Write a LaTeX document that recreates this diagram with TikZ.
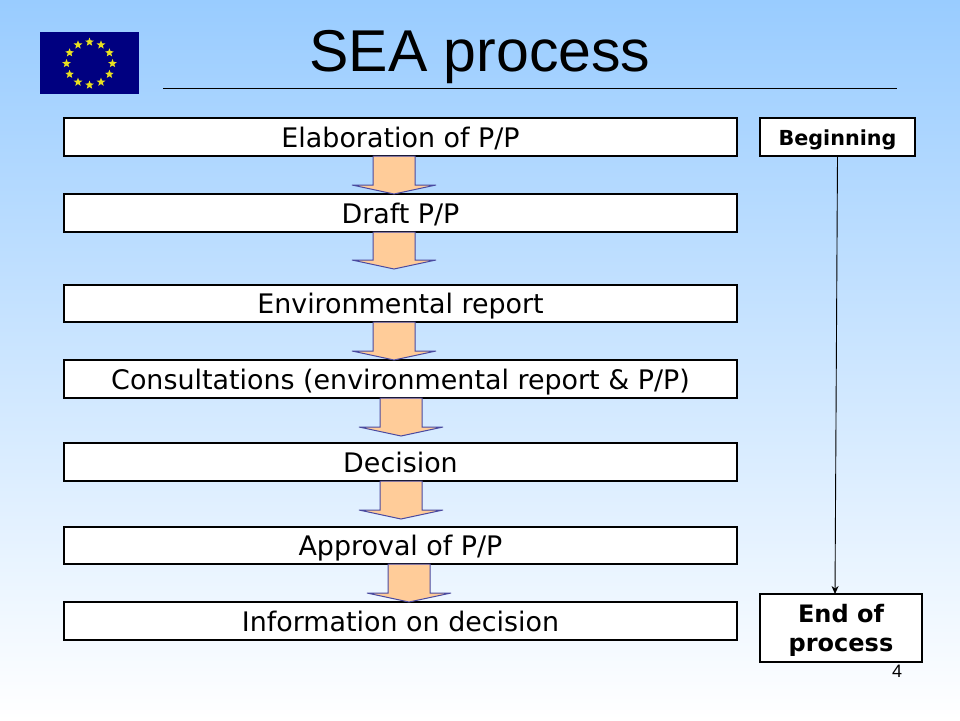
\documentclass[tikz,border=0pt]{standalone}
\usepackage{fontspec}
\setmainfont{DejaVu Sans}
\newfontfamily\titlefont{Liberation Sans}
\usetikzlibrary{shapes.geometric,calc,arrows.meta}
\definecolor{skyblue}{HTML}{99CCFF}
\definecolor{flagblue}{HTML}{000080}
\definecolor{flagstar}{HTML}{E8E020}
\definecolor{arrowfill}{HTML}{FFCC99}
\definecolor{arrowline}{HTML}{4A4AA0}
\tikzset{
  stepbox/.style={draw=black, fill=white, line width=2pt, anchor=north west, inner sep=0pt, outer sep=0pt, align=center, text height=20pt, text depth=0pt, font=\fontsize{26.9}{30}\selectfont},
  sidebox/.style={draw=black, fill=white, line width=2pt, anchor=north west, inner sep=0pt, outer sep=0pt, align=center, font=\bfseries\fontsize{24}{29}\selectfont},
  flowarrow/.style={draw=arrowline, fill=arrowfill, line width=1pt, miter limit=2},
  flagstarshape/.style={star, star points=5, star point ratio=2.3, fill=flagstar, inner sep=0pt, minimum size=9pt}
}
\begin{document}
\begin{tikzpicture}[x=1pt, y=-1pt, >={Stealth[length=8pt,width=7pt]}]
  \useasboundingbox (0,0) rectangle (960,720);
  \shade[top color=skyblue, bottom color=white] (0,0) rectangle (960,720);

  % flag
  \fill[flagblue] (40,32) rectangle (139,94);
  \foreach \a in {0,30,...,330}
    \node[flagstarshape] (star\a) at ({89.5+23*cos(\a)},{63.5+21.5*sin(\a)}) {};

  % title
  \node (title) at (480,57) {\titlefont\fontsize{59}{65}\selectfont SEA process};
  \draw[line width=0.7pt] (163,88) -- (897,88);

  % steps
  \foreach \name/\ytop/\ybot/\txt in {
      elab/118/156/{Elaboration of P/P},
      draft/194/232/{Draft P/P},
      envrep/285/322/{Environmental report},
      consult/360/398/{Consultations (environmental report \& P/P)},
      decision/443/481/{Decision},
      approval/527/564/{Approval of P/P},
      info/602/640/{Information on decision}}
    \node[stepbox, minimum width=673pt, minimum height={\ybot-\ytop}] (\name) at (64,\ytop) {\txt};

  % block arrows
  \foreach \from/\cx/\tipy in {elab/394/194, draft/394/269, envrep/394/360, consult/401/436, decision/401/519, approval/409/602} {
    \coordinate (tip) at (\cx,\tipy);
    \draw[flowarrow] let \p1=(\from.south), \p2=(tip) in
      (\x2-21pt,\y1) -- (\x2+21pt,\y1) -- (\x2+21pt,\y2+9pt) -- (\x2+42pt,\y2+9pt) -- (tip)
      -- (\x2-42pt,\y2+9pt) -- (\x2-21pt,\y2+9pt) -- cycle;
  }

  % right column
  \node[sidebox, minimum width=155pt, minimum height=38pt, text height=16pt, text depth=0pt, font=\bfseries\fontsize{20.7}{25}\selectfont] (begin) at (760,118) {Beginning};
  \node[sidebox, minimum width=162pt, minimum height=68pt, text depth=-4pt] (endproc) at (760,594) {End of\\process};
  \draw[->, line width=0.9pt] (begin.south) -- ([xshift=-6pt]endproc.north);

  \node (pagenum) at (897,671) {\titlefont\fontsize{18}{20}\selectfont 4};
\end{tikzpicture}
\end{document}
